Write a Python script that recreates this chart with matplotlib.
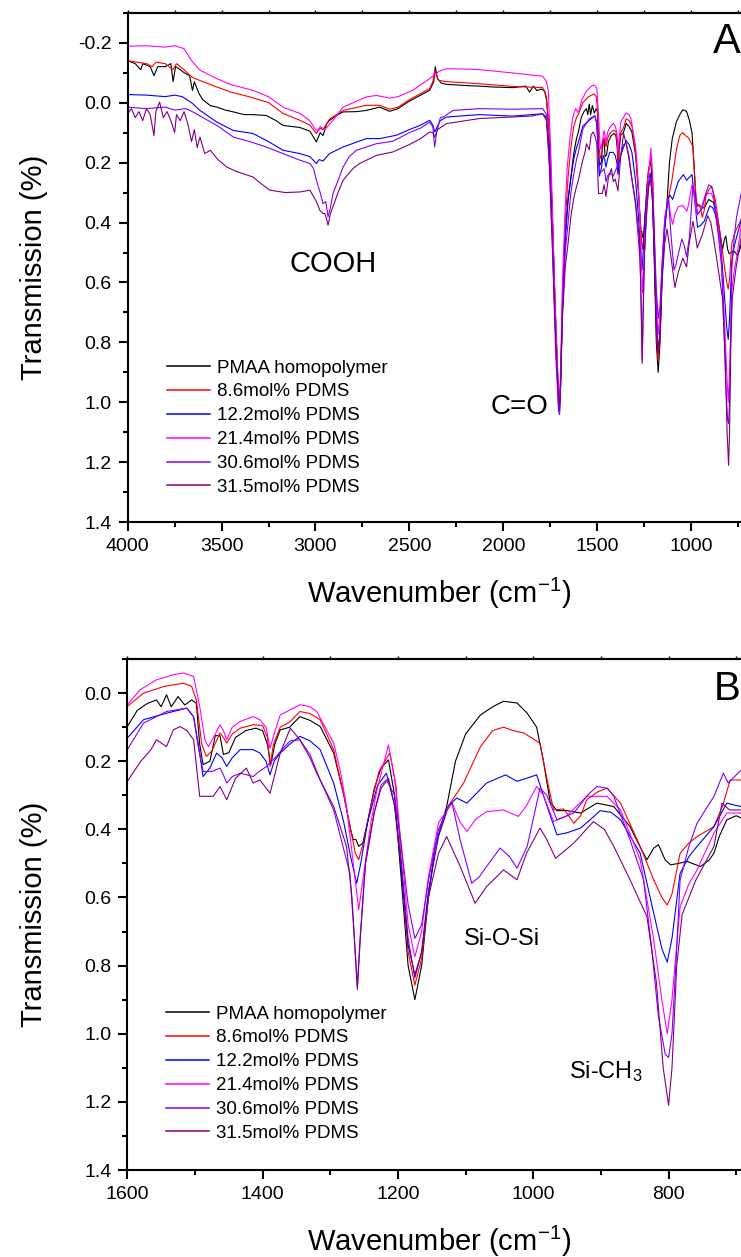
import matplotlib
matplotlib.use("Agg")
import matplotlib.pyplot as plt
import numpy as np
from matplotlib.ticker import MultipleLocator, FormatStrFormatter

plt.rcParams['font.family'] = ['Liberation Sans', 'DejaVu Sans']
plt.rcParams['mathtext.fontset'] = 'custom'
plt.rcParams['mathtext.rm'] = 'Liberation Sans'
plt.rcParams['mathtext.it'] = 'Liberation Sans'
plt.rcParams['axes.unicode_minus'] = False

labels = ['PMAA homopolymer', '8.6mol% PDMS', '12.2mol% PDMS',
          '21.4mol% PDMS', '30.6mol% PDMS', '31.5mol% PDMS']
colors = ['#000000', '#ff0000', '#0000ff', '#ff00ff', '#8000ff', '#800080']

# (wavenumber cm-1, transmission)
pmaa = [(4000, -0.14), (3960, -0.13), (3930, -0.11), (3920, -0.13), (3880, -0.12), (3860, -0.09),
        (3840, -0.12), (3800, -0.12), (3770, -0.13), (3758, -0.07), (3745, -0.12), (3720, -0.11),
        (3700, -0.10), (3670, -0.09), (3655, -0.04), (3645, -0.07), (3620, -0.03), (3600, -0.01),
        (3560, 0.01), (3525, 0.015), (3480, 0.025), (3437, 0.031), (3380, 0.04), (3333, 0.04),
        (3262, 0.043), (3210, 0.06), (3173, 0.076), (3083, 0.083), (3030, 0.095), (2995, 0.131),
        (2975, 0.10), (2960, 0.11), (2940, 0.07), (2925, 0.059), (2880, 0.04), (2853, 0.031),
        (2780, 0.03), (2730, 0.026), (2658, 0.015), (2605, 0.029), (2560, 0.02), (2500, -0.005),
        (2440, -0.025), (2392, -0.041), (2370, -0.07), (2362, -0.12), (2350, -0.08), (2330, -0.065),
        (2302, -0.061), (2200, -0.057), (2126, -0.055), (2050, -0.052), (1950, -0.05), (1880, -0.055),
        (1860, -0.035), (1840, -0.055), (1820, -0.04), (1800, -0.045), (1780, -0.04), (1770, -0.01),
        (1755, 0.1), (1740, 0.35), (1720, 0.75), (1705, 1.0), (1700, 1.01), (1695, 0.95),
        (1685, 0.7), (1670, 0.45), (1655, 0.32), (1640, 0.25), (1625, 0.17), (1610, 0.12),
        (1600, 0.098), (1585, 0.05), (1570, 0.03), (1557, 0.02), (1550, 0.04), (1542, 0.005),
        (1535, 0.04), (1525, 0.01), (1515, 0.035), (1505, 0.02), (1498, 0.03), (1493, 0.15),
        (1488, 0.21), (1478, 0.2), (1470, 0.125), (1463, 0.125), (1458, 0.18), (1450, 0.175),
        (1440, 0.13), (1425, 0.11), (1410, 0.103), (1400, 0.11), (1393, 0.15), (1388, 0.21),
        (1382, 0.15), (1374, 0.108), (1360, 0.1), (1345, 0.069), (1330, 0.08), (1315, 0.098),
        (1295, 0.176), (1280, 0.3), (1270, 0.4), (1266, 0.43), (1262, 0.43), (1258, 0.45),
        (1252, 0.44), (1245, 0.38), (1235, 0.28), (1225, 0.22), (1214, 0.196), (1205, 0.3),
        (1195, 0.55), (1185, 0.8), (1175, 0.9), (1165, 0.8), (1155, 0.6), (1145, 0.45),
        (1135, 0.38), (1128, 0.333), (1115, 0.2), (1100, 0.12), (1078, 0.064), (1059, 0.039),
        (1044, 0.024), (1024, 0.029), (1009, 0.059), (995, 0.1), (985, 0.2), (975, 0.32),
        (965, 0.345), (950, 0.345), (930, 0.352), (906, 0.323), (881, 0.333), (857, 0.392),
        (840, 0.46), (832, 0.489), (822, 0.455), (815, 0.445), (805, 0.49), (797, 0.504),
        (785, 0.5), (773, 0.494), (753, 0.509), (740, 0.49), (733, 0.47), (725, 0.42),
        (714, 0.372), (700, 0.36), (692, 0.367)]

pdms_86 = [(4000, -0.14), (3950, -0.135), (3900, -0.13), (3870, -0.12), (3850, -0.135), (3800, -0.13),
           (3760, -0.11), (3740, -0.13), (3700, -0.11), (3658, -0.085), (3600, -0.07), (3525, -0.052),
           (3450, -0.035), (3349, -0.019), (3250, 0.0), (3173, 0.036), (3083, 0.059), (3030, 0.075),
           (2995, 0.103), (2975, 0.085), (2960, 0.09), (2925, 0.055), (2853, 0.026), (2730, 0.009),
           (2658, 0.009), (2605, 0.022), (2560, 0.015), (2500, -0.01), (2440, -0.03), (2392, -0.047),
           (2375, -0.07), (2365, -0.108), (2350, -0.08), (2340, -0.074), (2302, -0.07), (2126, -0.063),
           (1950, -0.054), (1790, -0.05), (1770, -0.02), (1755, 0.1), (1740, 0.35), (1720, 0.75),
           (1705, 0.98), (1700, 1.0), (1695, 0.93), (1685, 0.68), (1670, 0.4), (1655, 0.25),
           (1640, 0.15), (1625, 0.08), (1610, 0.05), (1600, 0.039), (1576, 0.0), (1545, -0.02),
           (1517, -0.029), (1505, -0.02), (1498, 0.02), (1490, 0.15), (1483, 0.186), (1475, 0.17),
           (1463, 0.117), (1458, 0.13), (1453, 0.147), (1445, 0.12), (1433, 0.103), (1414, 0.093),
           (1400, 0.095), (1393, 0.13), (1389, 0.215), (1384, 0.15), (1374, 0.1), (1360, 0.085),
           (1345, 0.054), (1330, 0.06), (1315, 0.078), (1295, 0.166), (1280, 0.3), (1270, 0.4),
           (1263, 0.47), (1258, 0.489), (1250, 0.43), (1240, 0.33), (1228, 0.23), (1212, 0.176),
           (1203, 0.27), (1195, 0.5), (1185, 0.76), (1175, 0.857), (1165, 0.78), (1155, 0.6),
           (1145, 0.45), (1135, 0.38), (1125, 0.33), (1103, 0.264), (1078, 0.157), (1060, 0.11),
           (1044, 0.1), (1030, 0.11), (1014, 0.117), (990, 0.147), (980, 0.25), (970, 0.343),
           (955, 0.34), (940, 0.382), (930, 0.36), (921, 0.313), (905, 0.29), (891, 0.279),
           (871, 0.323), (842, 0.45), (822, 0.548), (810, 0.6), (802, 0.622), (795, 0.59),
           (783, 0.47), (770, 0.44), (758, 0.421), (733, 0.392), (720, 0.33), (709, 0.255),
           (692, 0.255)]

pdms_122 = [(4000, -0.027), (3900, -0.025), (3800, -0.02), (3750, -0.025), (3710, -0.02), (3660, 0.0),
            (3615, 0.026), (3525, 0.065), (3437, 0.093), (3333, 0.103), (3250, 0.13), (3173, 0.159),
            (3083, 0.17), (3030, 0.18), (2995, 0.203), (2980, 0.19), (2960, 0.195), (2925, 0.17),
            (2853, 0.148), (2730, 0.12), (2658, 0.12), (2570, 0.109), (2500, 0.09), (2440, 0.075),
            (2392, 0.059), (2375, 0.075), (2365, 0.098), (2355, 0.085), (2335, 0.06), (2302, 0.048),
            (2126, 0.04), (1950, 0.045), (1790, 0.037), (1770, 0.05), (1755, 0.15), (1740, 0.4),
            (1720, 0.8), (1705, 1.02), (1700, 1.03), (1695, 0.95), (1685, 0.66), (1670, 0.45),
            (1655, 0.33), (1640, 0.25), (1625, 0.19), (1610, 0.15), (1600, 0.132), (1576, 0.078),
            (1542, 0.059), (1512, 0.044), (1502, 0.069), (1495, 0.15), (1488, 0.245), (1478, 0.22),
            (1468, 0.176), (1460, 0.19), (1453, 0.215), (1445, 0.19), (1433, 0.166), (1414, 0.166),
            (1404, 0.176), (1395, 0.2), (1389, 0.24), (1383, 0.2), (1374, 0.176), (1360, 0.15),
            (1345, 0.127), (1330, 0.14), (1315, 0.166), (1295, 0.264), (1280, 0.38), (1270, 0.48),
            (1261, 0.558), (1255, 0.5), (1245, 0.38), (1230, 0.27), (1217, 0.235), (1205, 0.33),
            (1195, 0.52), (1185, 0.74), (1175, 0.827), (1165, 0.76), (1155, 0.58), (1140, 0.42),
            (1125, 0.33), (1113, 0.308), (1098, 0.323), (1069, 0.264), (1041, 0.24), (1024, 0.259),
            (1010, 0.25), (995, 0.24), (980, 0.33), (965, 0.416), (950, 0.41), (930, 0.396),
            (915, 0.37), (901, 0.345), (885, 0.35), (871, 0.372), (842, 0.47), (822, 0.646),
            (810, 0.75), (802, 0.79), (795, 0.72), (783, 0.529), (770, 0.48), (758, 0.45),
            (733, 0.392), (714, 0.323), (700, 0.33), (692, 0.333)]

pdms_214 = [(4000, -0.188), (3900, -0.19), (3800, -0.185), (3750, -0.19), (3700, -0.18), (3660, -0.14),
            (3615, -0.108), (3525, -0.08), (3450, -0.06), (3333, -0.041), (3250, -0.02), (3173, 0.015),
            (3083, 0.036), (3030, 0.06), (3004, 0.086), (2990, 0.095), (2975, 0.08), (2950, 0.09),
            (2907, 0.059), (2853, 0.015), (2780, -0.005), (2728, -0.019), (2675, -0.024), (2605, -0.015),
            (2560, -0.02), (2482, -0.041), (2392, -0.08), (2340, -0.105), (2302, -0.113), (2200, -0.112),
            (2126, -0.11), (1950, -0.099), (1790, -0.088), (1770, -0.07), (1760, -0.04), (1745, 0.2),
            (1725, 0.65), (1705, 0.98), (1700, 1.0), (1695, 0.9), (1685, 0.6), (1670, 0.35),
            (1660, 0.22), (1645, 0.12), (1630, 0.05), (1615, 0.02), (1600, 0.034), (1581, -0.01),
            (1557, -0.039), (1530, -0.055), (1517, -0.059), (1502, -0.049), (1493, 0.039), (1485, 0.14),
            (1480, 0.157), (1470, 0.12), (1463, 0.093), (1458, 0.11), (1453, 0.137), (1445, 0.1),
            (1433, 0.083), (1414, 0.069), (1404, 0.078), (1395, 0.1), (1389, 0.162), (1383, 0.12),
            (1374, 0.064), (1360, 0.05), (1345, 0.034), (1330, 0.04), (1320, 0.054), (1295, 0.147),
            (1285, 0.23), (1276, 0.333), (1266, 0.5), (1258, 0.636), (1252, 0.55), (1240, 0.38),
            (1231, 0.284), (1214, 0.152), (1205, 0.25), (1195, 0.45), (1185, 0.68), (1175, 0.774),
            (1165, 0.7), (1155, 0.54), (1140, 0.38), (1120, 0.323), (1108, 0.38), (1098, 0.406),
            (1085, 0.37), (1069, 0.348), (1044, 0.343), (1022, 0.362), (1010, 0.33), (995, 0.274),
            (985, 0.3), (970, 0.377), (950, 0.36), (940, 0.34), (921, 0.303), (891, 0.303),
            (871, 0.343), (842, 0.489), (822, 0.724), (810, 0.9), (802, 1.0), (795, 0.9),
            (783, 0.627), (770, 0.56), (758, 0.519), (733, 0.411), (714, 0.352), (692, 0.352)]

pdms_306 = [(4000, 0.015), (3900, 0.02), (3800, 0.015), (3750, 0.025), (3690, 0.02), (3640, 0.035),
            (3600, 0.05), (3525, 0.076), (3437, 0.115), (3350, 0.13), (3262, 0.148), (3173, 0.17),
            (3083, 0.192), (3030, 0.203), (3010, 0.22), (2995, 0.259), (2975, 0.3), (2960, 0.337),
            (2945, 0.33), (2933, 0.381), (2920, 0.35), (2907, 0.304), (2880, 0.26), (2853, 0.215),
            (2820, 0.18), (2782, 0.159), (2675, 0.137), (2590, 0.129), (2560, 0.12), (2500, 0.1),
            (2440, 0.085), (2392, 0.065), (2375, 0.08), (2365, 0.148), (2355, 0.1), (2335, 0.05),
            (2320, 0.048), (2267, 0.026), (2126, 0.02), (1950, 0.022), (1790, 0.02), (1770, 0.04),
            (1755, 0.2), (1740, 0.45), (1720, 0.85), (1705, 1.03), (1700, 1.04), (1695, 0.95),
            (1685, 0.7), (1670, 0.5), (1655, 0.4), (1640, 0.3), (1625, 0.24), (1610, 0.19),
            (1600, 0.166), (1576, 0.088), (1542, 0.054), (1512, 0.044), (1502, 0.07), (1495, 0.16),
            (1488, 0.23), (1475, 0.23), (1463, 0.22), (1458, 0.24), (1453, 0.264), (1445, 0.245),
            (1433, 0.235), (1414, 0.245), (1405, 0.23), (1394, 0.215), (1380, 0.186), (1369, 0.16),
            (1359, 0.14), (1345, 0.137), (1330, 0.18), (1315, 0.255), (1295, 0.343), (1280, 0.46),
            (1271, 0.529), (1265, 0.7), (1260, 0.86), (1256, 0.72), (1248, 0.5), (1235, 0.35),
            (1225, 0.27), (1217, 0.255), (1205, 0.3), (1195, 0.45), (1185, 0.62), (1175, 0.72),
            (1165, 0.68), (1155, 0.55), (1140, 0.4), (1125, 0.33), (1120, 0.323), (1108, 0.431),
            (1091, 0.558), (1080, 0.54), (1069, 0.509), (1049, 0.455), (1035, 0.48), (1024, 0.514),
            (1009, 0.45), (990, 0.279), (980, 0.3), (965, 0.372), (940, 0.352), (920, 0.3),
            (906, 0.274), (890, 0.28), (881, 0.303), (857, 0.431), (837, 0.548), (825, 0.75),
            (815, 0.95), (805, 1.06), (800, 1.07), (795, 1.0), (788, 0.75), (783, 0.548),
            (770, 0.45), (758, 0.382), (733, 0.303), (719, 0.235), (712, 0.264), (700, 0.24),
            (692, 0.225)]

pdms_315 = [(4000, 0.037), (3980, 0.02), (3960, 0.05), (3940, 0.03), (3920, 0.06), (3900, 0.02),
            (3880, 0.04), (3860, 0.11), (3850, 0.03), (3830, -0.002), (3810, 0.05), (3790, 0.03),
            (3770, 0.06), (3750, 0.1), (3740, 0.04), (3720, 0.06), (3700, 0.03), (3680, 0.07),
            (3660, 0.13), (3645, 0.09), (3630, 0.15), (3615, 0.115), (3590, 0.17), (3560, 0.159),
            (3520, 0.19), (3472, 0.215), (3420, 0.23), (3333, 0.248), (3290, 0.27), (3244, 0.292),
            (3160, 0.3), (3083, 0.298), (3030, 0.292), (2995, 0.33), (2977, 0.359), (2960, 0.37),
            (2950, 0.37), (2940, 0.39), (2933, 0.409), (2920, 0.37), (2907, 0.348), (2880, 0.3),
            (2853, 0.259), (2800, 0.22), (2765, 0.203), (2675, 0.176), (2590, 0.165), (2500, 0.14),
            (2440, 0.12), (2392, 0.098), (2375, 0.1), (2365, 0.115), (2350, 0.09), (2302, 0.07),
            (2126, 0.053), (1950, 0.048), (1850, 0.045), (1790, 0.037), (1770, 0.06), (1755, 0.2),
            (1740, 0.45), (1720, 0.8), (1705, 1.0), (1700, 1.01), (1695, 0.93), (1685, 0.72),
            (1670, 0.55), (1655, 0.47), (1640, 0.38), (1625, 0.32), (1610, 0.28), (1600, 0.259),
            (1580, 0.2), (1565, 0.166), (1557, 0.137), (1542, 0.157), (1532, 0.108), (1522, 0.098),
            (1512, 0.11), (1502, 0.137), (1493, 0.303), (1473, 0.303), (1463, 0.274), (1453, 0.313),
            (1440, 0.25), (1424, 0.22), (1414, 0.264), (1404, 0.255), (1389, 0.294), (1374, 0.176),
            (1359, 0.103), (1345, 0.137), (1330, 0.19), (1320, 0.235), (1295, 0.333), (1276, 0.45),
            (1268, 0.6), (1260, 0.87), (1255, 0.7), (1248, 0.5), (1235, 0.35), (1225, 0.28),
            (1214, 0.25), (1205, 0.33), (1195, 0.5), (1185, 0.72), (1175, 0.836), (1165, 0.76),
            (1155, 0.6), (1140, 0.47), (1128, 0.421), (1108, 0.509), (1086, 0.617), (1069, 0.568),
            (1044, 0.519), (1024, 0.548), (1010, 0.47), (990, 0.396), (980, 0.43), (967, 0.485),
            (940, 0.44), (911, 0.377), (895, 0.4), (881, 0.45), (857, 0.548), (832, 0.656),
            (818, 0.85), (808, 1.1), (800, 1.21), (795, 1.1), (788, 0.8), (780, 0.65),
            (760, 0.55), (733, 0.45), (721, 0.323), (710, 0.343), (692, 0.343)]

spectra = [pmaa, pdms_86, pdms_122, pdms_214, pdms_306, pdms_315]

fig = plt.figure(figsize=(7.41, 12.57), dpi=100)
axA = fig.add_axes([0.1723, 0.5845, 0.8277, 0.4054])
axB = fig.add_axes([0.1718, 0.0692, 0.8282, 0.4065])

for ax, xlim, ylim, xmaj, xmin in [(axA, (4000, 734), (1.4, -0.3), 500, 250),
                                   (axB, (1600, 693), (1.4, -0.1), 200, 100)]:
    for data, lab, c in zip(spectra, labels, colors):
        d = np.array(data)
        ax.plot(d[:, 0], d[:, 1], color=c, lw=0.8, label=lab)
    ax.set_xlim(*xlim)
    ax.set_ylim(*ylim)
    ax.xaxis.set_major_locator(MultipleLocator(xmaj))
    ax.xaxis.set_minor_locator(MultipleLocator(xmin))
    ax.yaxis.set_major_locator(MultipleLocator(0.2))
    ax.yaxis.set_minor_locator(MultipleLocator(0.1))
    ax.yaxis.set_major_formatter(FormatStrFormatter('%.1f'))
    ax.spines['right'].set_visible(False)
    for s in ['left', 'bottom', 'top']:
        ax.spines[s].set_linewidth(1.5)
    ax.tick_params(which='major', length=6.5, width=1.5, labelsize=14, pad=5)
    ax.tick_params(which='minor', length=3.5, width=1.5)
    sec = ax.secondary_xaxis('top')
    sec.xaxis.set_major_locator(MultipleLocator(xmin))
    sec.tick_params(length=2.5, width=1, labeltop=False)
    sec.spines['top'].set_linewidth(1.5)
    ax.set_xlabel('Wavenumber (cm$^{-1}$)', fontsize=21)
    ax.set_ylabel('Transmission (%)', fontsize=21)
    ax.yaxis.set_label_coords(-0.13, 0.5)
    ax.xaxis.set_label_coords(0.508, -0.105)

for ax, anchor in [(axA, (0.064, 0.3195)), (axB, (0.063, 0.322))]:
    leg = ax.legend(loc='upper left', bbox_to_anchor=anchor, frameon=False, fontsize=13.5,
                    handlelength=2.3, handletextpad=0.35, labelspacing=0.36,
                    borderpad=0, borderaxespad=0)
    for h in leg.get_lines():
        h.set_linewidth(1.1)

axA.text(2907, 0.54, 'COOH', fontsize=21, ha='center', va='center')
axA.text(1911, 1.016, 'C=O', fontsize=20, ha='center', va='center')
axB.text(1046, 0.722, 'Si-O-Si', fontsize=17, ha='center', va='center')
axB.text(947, 1.13, 'Si-CH$_3$', fontsize=17, ha='left', va='baseline')
fig.text(0.981, 0.9666, 'A', fontsize=30, ha='center', va='center')
fig.text(0.981, 0.4519, 'B', fontsize=29, ha='center', va='center')

fig.savefig('out.png', dpi=100)
